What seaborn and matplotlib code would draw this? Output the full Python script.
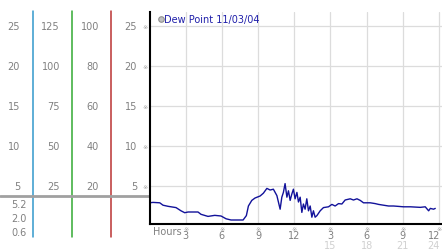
import matplotlib
matplotlib.use("Agg")
import matplotlib.pyplot as plt
import seaborn as sns
import pandas as pd

# ---- data ----
hours = [0.0, 0.29, 0.85, 1.12, 1.54, 2.2, 2.61, 2.92, 3.2, 4.02, 4.27, 4.85, 5.41, 5.93,
         6.35, 6.76, 7.76, 8.03, 8.2, 8.48, 8.75, 9.17, 9.44, 9.73, 10.0, 10.27, 10.56,
         10.83, 10.97, 11.1, 11.24, 11.39, 11.52, 11.66, 11.8, 11.93, 12.07, 12.22, 12.35,
         12.49, 12.63, 12.76, 12.9, 13.04, 13.18, 13.32, 13.46, 13.59, 13.73, 13.88, 14.15,
         14.42, 14.84, 15.12, 15.39, 15.67, 15.95, 16.22, 16.64, 16.91, 17.2, 17.47, 17.74,
         18.3, 18.71, 18.99, 19.4, 19.82, 20.23, 20.65, 21.05, 21.62, 22.45, 22.86, 23.14,
         23.28, 23.55, 23.69]
dew_point = [2.9, 2.95, 2.9, 2.6, 2.46, 2.3, 1.9, 1.66, 1.75, 1.75, 1.46, 1.2, 1.33, 1.25,
             0.9, 0.75, 0.75, 1.3, 2.5, 3.2, 3.5, 3.75, 4.1, 4.7, 4.5, 4.6, 3.8,
             2.1, 3.6, 4.2, 5.3, 3.6, 4.4, 3.2, 4.0, 4.6, 3.4, 4.2, 3.0,
             3.6, 1.7, 2.75, 2.1, 3.4, 1.9, 2.5, 1.1, 1.9, 1.1, 1.3, 1.9,
             2.3, 2.4, 2.7, 2.5, 2.8, 2.75, 3.25, 3.4, 3.25, 3.4, 3.2, 2.9,
             2.9, 2.8, 2.7, 2.6, 2.5, 2.5, 2.45, 2.4, 2.4, 2.33, 2.4, 1.9,
             2.2, 2.1, 2.2]
series_label = "Dew Point 11/03/04"

y_ticks = [5, 10, 15, 20, 25]
x_ticks = [3, 6, 9, 12, 15, 18, 21, 24]
x_labels = ["3", "6", "9", "12", "3", "6", "9", "12"]
x_labels2 = ["15", "18", "21", "24"]
x_ticks2 = [15, 18, 21, 24]

# scale labels, listed bottom to top (matching y_ticks)
scale1 = ["5", "10", "15", "20", "25"]
scale2 = ["25", "50", "75", "100", "125"]
scale3 = ["20", "40", "60", "80", "100"]
scale4 = ["5", "10", "15", "20", "25"]
low_labels = ["5.2", "2.0", "0.6"]
low_pos = [2.75, 1.0, -0.75]

df = pd.DataFrame({"hour": hours, "dew": dew_point})

sns.set_style("white")
plt.rcParams["font.family"] = ["DejaVu Sans"]

W, H = 442, 253
fig = plt.figure(figsize=(W / 100, H / 100), dpi=100)

# ---- left scale panel ----
axl = fig.add_axes([0, 0, 149.5 / W, 1])
axl.set_xlim(0, 149.5)
axl.set_ylim((227 - 253) / 8, 227 / 8)
axl.axis("off")
lab_col = "#808080"
fs = 7
for lab, v in zip(scale1, y_ticks):
    axl.text(20, v, lab, ha="right", va="center", fontsize=fs, color=lab_col)
for lab, v in zip(scale2, y_ticks):
    axl.text(60, v, lab, ha="right", va="center", fontsize=fs, color=lab_col)
for lab, v in zip(scale3, y_ticks):
    axl.text(99, v, lab, ha="right", va="center", fontsize=fs, color=lab_col)
for lab, v in zip(scale4, y_ticks):
    axl.text(137, v, lab, ha="right", va="center", fontsize=fs, color=lab_col)
for lab, v in zip(low_labels, low_pos):
    axl.text(27, v, lab, ha="right", va="center", fontsize=fs, color=lab_col)
ytop, ybot = (227 - 12) / 8, (227 - 238) / 8
axl.plot([33.3, 33.3], [ybot, ytop], color="#3399cc", lw=1.1)
axl.plot([72.3, 72.3], [ybot, ytop], color="#33aa33", lw=1.1)
axl.plot([111.3, 111.3], [ybot, ytop], color="#bb3333", lw=1.1)
axl.axhline(3.75, color="#a0a0a0", lw=2)

# ---- main plot ----
ax = fig.add_axes([149.5 / W, 28 / H, (W - 149.5) / W, 212 / H])
sns.lineplot(data=df, x="hour", y="dew", ax=ax, color="#12129a", lw=1.0)
ax.set_xlim(0, 24 * 292.5 / 289.5)
ax.set_ylim(0.25, 26.75)
for sp in ["top", "right"]:
    ax.spines[sp].set_visible(False)
for sp in ["left", "bottom"]:
    ax.spines[sp].set_color("black")
    ax.spines[sp].set_linewidth(1.5)
ax.set_xlabel("")
ax.set_ylabel("")
ax.set_yticks(y_ticks)
ax.set_yticklabels(["※"] * len(y_ticks), fontsize=4.5, color="#a0a0a0")
ax.tick_params(axis="y", length=0, pad=1)
ax.set_xticks(x_ticks)
ax.set_xticklabels([])
ax.tick_params(axis="x", length=0)
ax.grid(True, color="#dcdcdc", lw=0.9)
ax.set_axisbelow(True)

tr = ax.get_xaxis_transform()
for i, (t, lab) in enumerate(zip(x_ticks, x_labels)):
    last = i == len(x_ticks) - 1
    ax.text(t, -0.022, "※", ha="center", va="center", fontsize=4.5, color="#a0a0a0", transform=tr)
    if last:
        ax.text(t + 0.1, -0.054, lab, ha="right", va="center", fontsize=7, color="#808080", transform=tr)
    else:
        ax.text(t, -0.054, lab, ha="center", va="center", fontsize=7, color="#808080", transform=tr)
for i, (t, lab) in enumerate(zip(x_ticks2, x_labels2)):
    last = i == len(x_ticks2) - 1
    if last:
        ax.text(t + 0.08, -0.097, lab, ha="right", va="center", fontsize=7, color="#d0d0d0", transform=tr)
    else:
        ax.text(t, -0.097, lab, ha="center", va="center", fontsize=7, color="#d0d0d0", transform=tr)
ax.text(0.3, -0.032, "Hours", ha="left", va="center", fontsize=7, color="#808080", transform=tr)

# legend
ax.plot([0.92], [25.9], marker="o", ms=4, mfc="#c0c0c0", mec="#909090", mew=0.8, clip_on=False)
ax.text(1.2, 25.9, series_label, ha="left", va="center", fontsize=7, color="#2020aa")

fig.savefig("out.png", dpi=100)
